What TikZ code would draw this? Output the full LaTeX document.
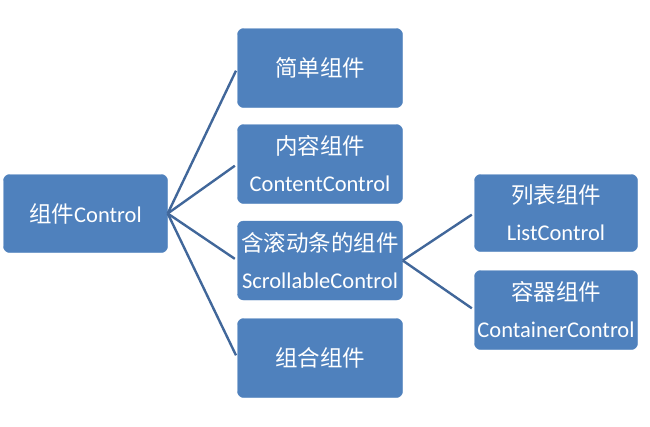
\documentclass[tikz,border=0pt]{standalone}
\usepackage{fontspec}
\setmainfont{Carlito}
\newfontfamily\cjk{Noto Sans CJK SC}
\usepackage{tikz}
\usepackage{xcolor}
\definecolor{boxcolorc}{HTML}{4F81BD}
\definecolor{linecolorc}{HTML}{41679A}
\colorlet{boxcolor}{boxcolorc}
\colorlet{linecolor}{linecolorc}
\newcommand{\zh}[1]{{\cjk #1}}
\tikzstyle{ctrlbox} = [
    fill=boxcolor,
    draw=boxcolor,
    rounded corners=6pt,
    rectangle,
    text=white,
    font=\fontsize{22.5}{37}\selectfont,
    align=center,
    inner sep=0pt
    ]
\tikzstyle{branch} = [
    draw=linecolor,
    line width=2.4pt,
    shorten >=3pt
    ]
\begin{document}
\begin{tikzpicture}[x=1pt,y=1pt]
\useasboundingbox (0,0) rectangle (650,-426);
\node [ctrlbox, minimum width=164pt, minimum height=78pt] (control) at (85.5,-213.5) {\zh{组件}Control};
% first level
\node [ctrlbox, minimum width=165pt, minimum height=79pt] (simple) at (320,-68) {\zh{简单组件}};
\node [ctrlbox, minimum width=165pt, minimum height=79pt] (content) at (320,-164) {\zh{内容组件}\\ContentControl};
\node [ctrlbox, minimum width=165pt, minimum height=79pt] (scroll) at (320,-260.5) {\zh{含滚动条的组件}\\ScrollableControl};
\node [ctrlbox, minimum width=165pt, minimum height=79pt] (combo) at (320,-358) {\zh{组合组件}};
% second level
\node [ctrlbox, minimum width=163pt, minimum height=77pt] (list) at (556,-213) {\zh{列表组件}\\ListControl};
\node [ctrlbox, minimum width=163pt, minimum height=79pt] (container) at (556,-310) {\zh{容器组件}\\ContainerControl};

\foreach \child in {simple,content,scroll,combo}
    \draw [branch] (control.east) -- (\child.west);
\foreach \child in {list,container}
    \draw [branch] (scroll.east) -- (\child.west);
\end{tikzpicture}
\end{document}
